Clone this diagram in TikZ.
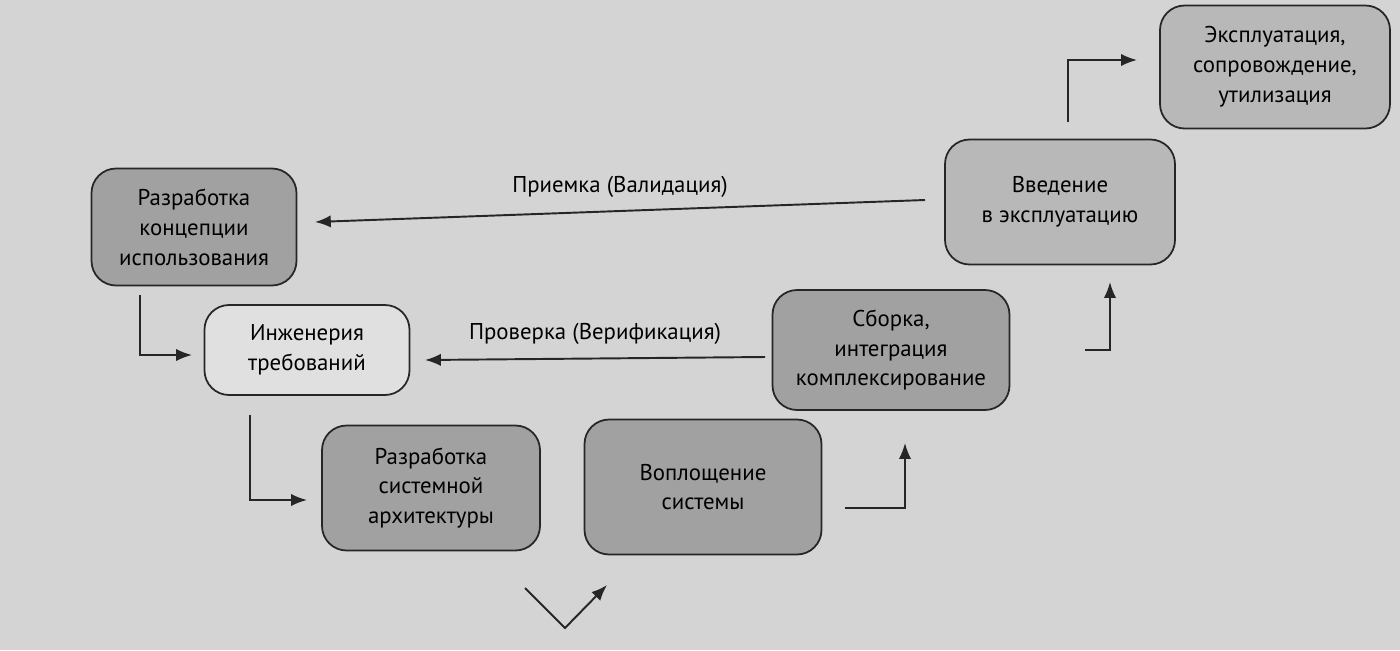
\documentclass[tikz,border=0pt]{standalone}
\usepackage{fontspec}
\usetikzlibrary{arrows.meta}
\setmainfont{PT Sans}
\begin{document}
\begin{tikzpicture}[x=0.02cm,y=-0.02cm,
  box/.style={draw=black!85,line width=1pt,rounded corners=14pt,align=center,inner sep=0pt,font=\fontsize{13}{17}\selectfont},
  dark/.style={box,fill=black!37},
  light/.style={box,fill=black!12},
  mid/.style={box,fill=black!28},
  arr/.style={draw=black!85,line width=1.1pt,-{Latex[length=9pt,width=7pt]}},
  lbl/.style={font=\fontsize{13}{17}\selectfont}]
\fill[black!17] (0,0) rectangle (1400,650);
\useasboundingbox (0,0) rectangle (1400,650);
\node[dark,minimum width=205*0.02cm,minimum height=117*0.02cm] (c) at (194,227) {Разработка\\концепции\\использования};
\node[light,minimum width=205*0.02cm,minimum height=90*0.02cm] (r) at (307,350) {Инженерия\\требований};
\node[dark,minimum width=218*0.02cm,minimum height=125*0.02cm] (a) at (431,488) {Разработка\\системной\\архитектуры};
\node[dark,minimum width=237*0.02cm,minimum height=135*0.02cm] (v) at (703,487) {Воплощение\\системы};
\node[dark,minimum width=237*0.02cm,minimum height=120*0.02cm] (s) at (891,350) {Сборка,\\интеграция\\комплексирование};
\node[mid,minimum width=230*0.02cm,minimum height=125*0.02cm] (e) at (1060,202) {Введение\\в эксплуатацию};
\node[mid,minimum width=230*0.02cm,minimum height=123*0.02cm] (x) at (1275,67) {Эксплуатация,\\сопровождение,\\утилизация};
\coordinate (p1) at (925,200); \coordinate (p2) at (315,222);
\draw[arr] (p1) -- (p2) node[lbl,pos=0.5,above=4pt] {Приемка (Валидация)};
\coordinate (q1) at (765,357); \coordinate (q2) at (425,360);
\draw[arr] (q1) -- (q2) node[lbl,pos=0.5,above=4pt] {Проверка (Верификация)};
\coordinate (a1) at (140,295); \coordinate (a2) at (140,355); \coordinate (a3) at (192,355);
\draw[arr] (a1) -- (a2) -- (a3);
\coordinate (b1) at (250,415); \coordinate (b2) at (250,500); \coordinate (b3) at (307,500);
\draw[arr] (b1) -- (b2) -- (b3);
\coordinate (d1) at (525,588); \coordinate (d2) at (565,628); \coordinate (d3) at (607,585);
\draw[arr] (d1) -- (d2) -- (d3);
\coordinate (f1) at (845,508); \coordinate (f2) at (905,508); \coordinate (f3) at (905,443);
\draw[arr] (f1) -- (f2) -- (f3);
\coordinate (g1) at (1085,350); \coordinate (g2) at (1110,350); \coordinate (g3) at (1110,282);
\draw[arr] (g1) -- (g2) -- (g3);
\coordinate (h1) at (1068,122); \coordinate (h2) at (1068,60); \coordinate (h3) at (1137,60);
\draw[arr] (h1) -- (h2) -- (h3);
\end{tikzpicture}
\end{document}
